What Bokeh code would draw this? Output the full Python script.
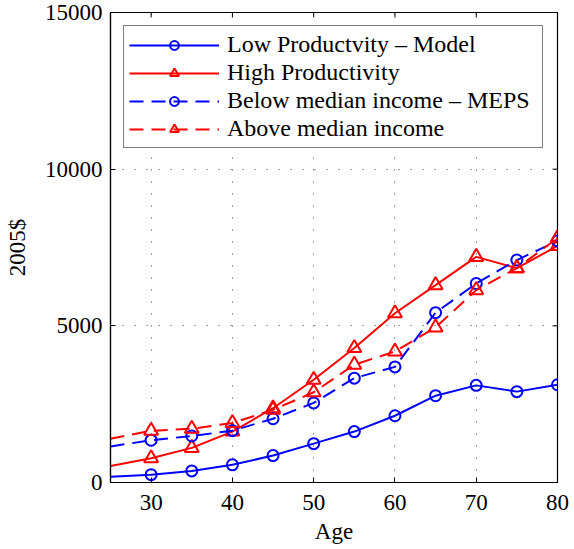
import math
from bokeh.plotting import figure
from bokeh.models import Range1d, FixedTicker, Legend, LegendItem
from bokeh.embed import file_html
from bokeh.resources import INLINE

ages = [25, 30, 35, 40, 45, 50, 55, 60, 65, 70, 75, 80]
low_model = [180, 250, 370, 565, 860, 1240, 1625, 2130, 2770, 3100, 2900, 3120]
high_model = [530, 775, 1105, 1625, 2370, 3280, 4290, 5400, 6300, 7200, 6840, 7550]
below_meps = [1150, 1350, 1485, 1655, 2035, 2540, 3330, 3690, 5420, 6350, 7100, 7710]
above_meps = [1395, 1650, 1715, 1900, 2320, 2880, 3760, 4180, 4950, 6140, 6840, 7800]
x_ticks = [30, 40, 50, 60, 70, 80]
y_ticks = [0, 5000, 10000, 15000]
labels = ["Low Productvity \u2013 Model", "High Productivity",
          "Below median income \u2013 MEPS", "Above median income"]

FONT = "Liberation Serif"
BLUE = "#0000ff"
RED = "#ff0000"

x0, x1 = ages[0], ages[-1]
y0, y1 = y_ticks[0], y_ticks[-1]

p = figure(width=574, height=549, output_backend="svg", toolbar_location=None,
           x_range=Range1d(x0, x1), y_range=Range1d(y0, y1),
           min_border_left=110, min_border_right=17, min_border_top=12,
           min_border_bottom=67)
p.outline_line_color = "black"
p.outline_line_width = 1.2

for ax in p.axis:
    ax.axis_line_color = "black"
    ax.axis_line_width = 1.2
    ax.major_tick_in = 5
    ax.major_tick_out = 0
    ax.minor_tick_in = 0
    ax.minor_tick_out = 0
    ax.major_tick_line_color = "black"
    ax.major_label_text_font = FONT
    ax.major_label_text_font_size = "23px"
    ax.major_label_text_color = "black"
    ax.axis_label_text_font = FONT
    ax.axis_label_text_font_size = "23px"
    ax.axis_label_text_font_style = "normal"
    ax.axis_label_text_color = "black"

p.xaxis.ticker = FixedTicker(ticks=x_ticks)
p.yaxis.ticker = FixedTicker(ticks=y_ticks)
p.xaxis.axis_label = "Age"
p.yaxis.axis_label = "2005$"
p.xaxis.major_label_standoff = 12
p.xaxis.axis_label_standoff = 6
p.yaxis.major_label_standoff = 8
p.yaxis.axis_label_standoff = 12

p.xgrid.ticker = FixedTicker(ticks=x_ticks)
p.ygrid.ticker = FixedTicker(ticks=y_ticks)
p.grid.grid_line_color = "#444444"
p.grid.grid_line_dash = "1 11"
p.grid.grid_line_width = 1

# inward tick marks on the top and right borders of the box
p.scatter(x_ticks, [y1] * len(x_ticks), marker="dash", angle=math.pi / 2, size=10,
          line_color="black", line_width=1)
p.scatter([x1] * len(y_ticks), y_ticks, marker="dash", size=10,
          line_color="black", line_width=1)

series = [
    (low_model, BLUE, "solid", "circle", 11),
    (high_model, RED, "solid", "triangle", 14),
    (below_meps, BLUE, "14 8", "circle", 11),
    (above_meps, RED, "14 8", "triangle", 14),
]
items = []
for (vals, color, dash, marker, size), lab in zip(series, labels):
    lr = p.line(ages, vals, line_color=color, line_width=2, line_dash=dash)
    sr = p.scatter(ages[1:], vals[1:], marker=marker, size=size, line_color=color,
                   line_width=2, fill_color=None)
    items.append(LegendItem(label=lab, renderers=[lr, sr]))

legend = Legend(items=items, location="top_left", margin=13,
                label_text_font=FONT, label_text_font_size="24px",
                label_text_color="black",
                glyph_width=90, glyph_height=22, label_height=22,
                label_standoff=8, spacing=1, padding=5, label_width=310,
                border_line_color="black", border_line_width=1,
                background_fill_color="white", background_fill_alpha=1)
p.add_layout(legend, "center")

open("out.html", "w").write(file_html(p, INLINE))
